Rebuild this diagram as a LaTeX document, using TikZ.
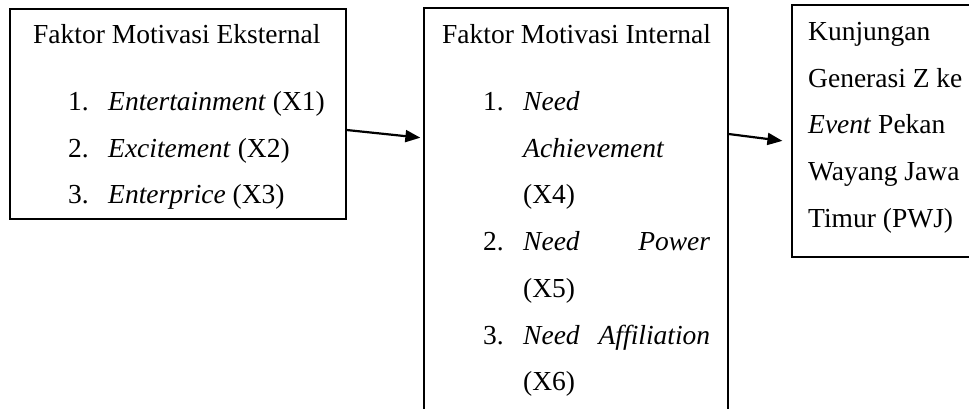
\documentclass[tikz,border=0pt]{standalone}
\usepackage{fontspec}
\setmainfont{Liberation Serif}
\usetikzlibrary{arrows.meta}
\begin{document}
\begin{tikzpicture}[x=1pt,y=-1pt,
	box/.style={draw,line width=1.3pt,inner sep=0pt},
	txt/.style={anchor=base west,inner sep=0pt,font=\fontsize{27.5}{33}\selectfont},
	arr/.style={line width=2.2pt,-{Triangle[length=15pt,width=12pt]}}]
\useasboundingbox (0,0) rectangle (969,408);
\clip (0,0) rectangle (969,408);
	\node[box,minimum width=336pt,minimum height=210pt] (eks) at (178,114) {};
	\node[box,minimum width=304pt,minimum height=420pt] (int) at (576,218) {};
	\node[box,minimum width=190pt,minimum height=252pt] (kun) at (887,131) {};
	\node[txt] (eks0) at (33,43) {Faktor Motivasi Eksternal};
	\node[txt] (eks1n) at (68,110) {1.};
	\node[txt] (eks1) at (108,110) {\textit{Entertainment} (X1)};
	\node[txt] (eks2n) at (68,157) {2.};
	\node[txt] (eks2) at (108,157) {\textit{Excitement} (X2)};
	\node[txt] (eks3n) at (68,203) {3.};
	\node[txt] (eks3) at (108,203) {\textit{Enterprice} (X3)};
	\node[txt] (int0) at (442,43) {Faktor Motivasi Internal};
	\node[txt] (int1n) at (483,110) {1.};
	\node[txt] (int1a) at (523,110) {\textit{Need}};
	\node[txt] (int1b) at (523,157) {\textit{Achievement}};
	\node[txt] (int1c) at (523,203) {(X4)};
	\node[txt] (int2n) at (483,250) {2.};
	\node[txt] (int2a) at (523,250) {\makebox[187pt][s]{\textit{Need Power}}};
	\node[txt] (int2b) at (523,297) {(X5)};
	\node[txt] (int3n) at (483,344) {3.};
	\node[txt] (int3a) at (523,344) {\makebox[187pt][s]{\textit{Need Affiliation}}};
	\node[txt] (int3b) at (523,390) {(X6)};
	\node[txt] (kun1) at (808,40) {Kunjungan};
	\node[txt] (kun2) at (808,87) {Generasi Z ke};
	\node[txt] (kun3) at (808,133) {\textit{Event} Pekan};
	\node[txt] (kun4) at (808,180) {Wayang Jawa};
	\node[txt] (kun5) at (808,227) {Timur (PWJ)};
\draw[arr,shorten >=3pt] ([yshift=-16pt]eks.east)--([yshift=80pt]int.west);
\draw[arr,shorten >=9pt] ([yshift=84pt]int.east)--([yshift=-11pt]kun.west);
\end{tikzpicture}
\end{document}
